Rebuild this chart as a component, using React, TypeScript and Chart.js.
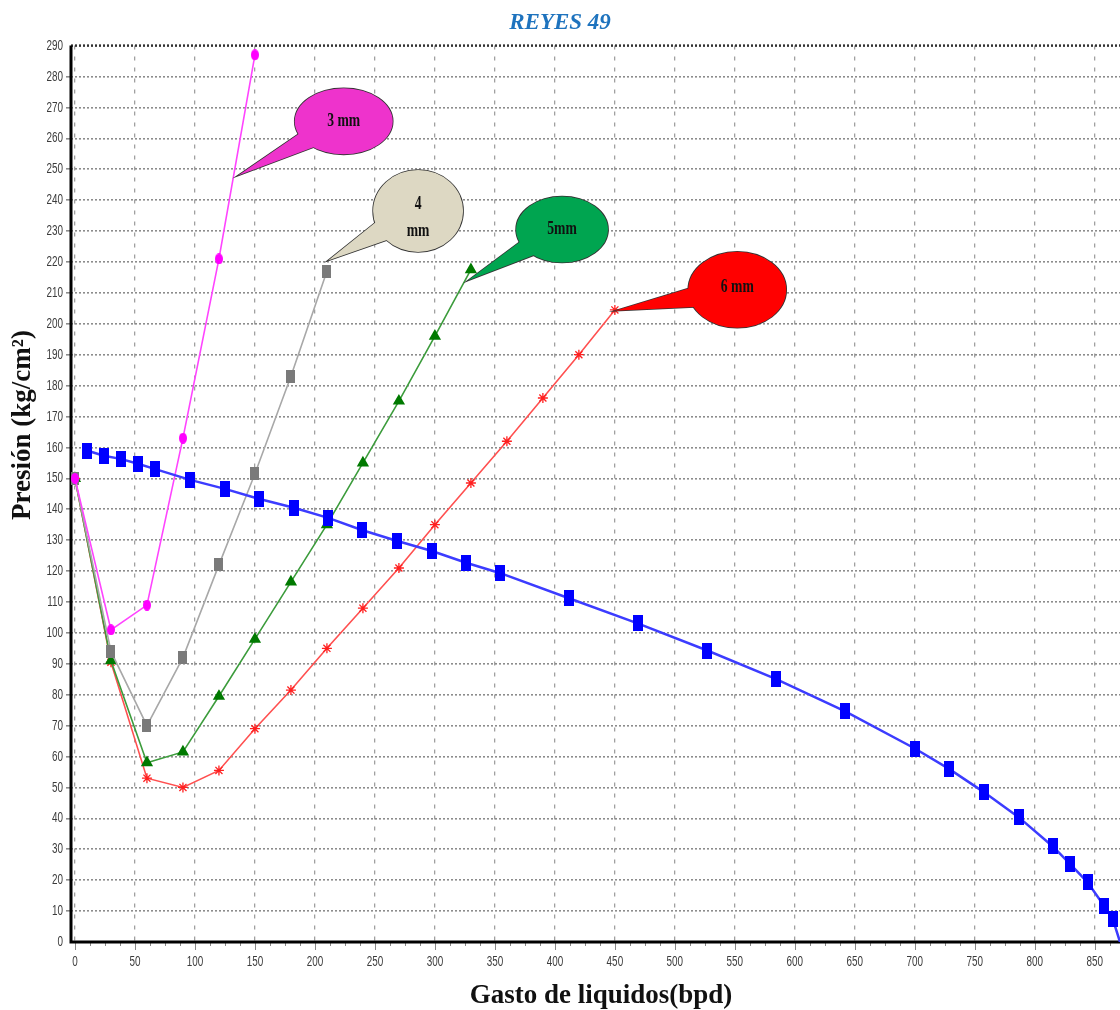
import React, { useEffect, useRef } from 'react';
import { Chart, registerables } from 'chart.js';

Chart.register(...registerables);

// ---------- data ----------
const xTickValues = [0, 50, 100, 150, 200, 250, 300, 350, 400, 450, 500, 550, 600, 650, 700, 750, 800, 850];
const yTickValues = [0, 10, 20, 30, 40, 50, 60, 70, 80, 90, 100, 110, 120, 130, 140, 150, 160, 170, 180, 190, 200, 210, 220, 230, 240, 250, 260, 270, 280, 290];

// IPR curve (blue)
const iprX = [10, 24, 38, 52.5, 67, 96, 125, 153, 182.5, 211, 239, 268, 297.5, 326, 354, 411.7, 469, 527, 584, 642, 700, 728.5, 757.5, 786.5, 815, 829.5, 844, 857.5, 865, 871];
const iprY = [159, 157.3, 156.3, 154.7, 153, 149.5, 146.6, 143.4, 140.5, 137.2, 133.3, 129.8, 126.5, 122.7, 119.4, 111.2, 103.1, 94.3, 85.1, 74.6, 62.6, 56, 48.5, 40.4, 30.9, 25.2, 19.3, 11.8, 7.4, 0];

// choke curves
const choke3X = [0, 30, 60, 90, 120, 150];
const choke3Y = [150, 101, 109, 163, 221, 287];

const choke4X = [0, 30, 60, 90, 120, 150, 180, 210];
const choke4Y = [150, 94, 70, 92, 122, 151.5, 183, 217];

const choke5X = [0, 30, 60, 90, 120, 150, 180, 210, 240, 270, 300, 330];
const choke5Y = [150, 91, 58, 61.5, 79.5, 98, 116.5, 135, 155, 175, 196, 217.5];

const choke6X = [0, 30, 60, 90, 120, 150, 180, 210, 240, 270, 300, 330, 360, 390, 420, 450];
const choke6Y = [150, 90.5, 53, 50, 55.5, 69, 81.5, 95, 108, 121, 135, 148.5, 162, 176, 190, 204.5];

const calloutLabels = [['3 mm'], ['4', 'mm'], ['5mm'], ['6 mm']];

const titleText = 'REYES 49';
const yTitleText = 'Presión (kg/cm²)';
const xTitleText = 'Gasto de liquidos(bpd)';

// ---------- callout geometry (data units for anchors, px for ellipse radii) ----------
const calloutGeom = [
  { cx: 224, cy: 265.5, rx: 49, ry: 33, tipX: 136, tipY: 248, fill: '#EE33CC', textDy: 0 },
  { cx: 286, cy: 236.5, rx: 45, ry: 41, tipX: 211, tipY: 220.5, fill: '#DDD8C3', textDy: 7 },
  { cx: 406, cy: 230.5, rx: 46, ry: 33, tipX: 327.5, tipY: 214, fill: '#00A550', textDy: 0 },
  { cx: 552, cy: 211, rx: 49, ry: 38, tipX: 450, tipY: 204.2, fill: '#FF0000', textDy: -3 },
];

const toXY = (xs: number[], ys: number[]) => xs.map((x, i) => ({ x, y: ys[i] }));

function makeRect(w: number, h: number, color: string) {
  const c = document.createElement('canvas');
  c.width = w;
  c.height = h;
  const g = c.getContext('2d')!;
  g.fillStyle = color;
  g.fillRect(0, 0, w, h);
  return c;
}

function makeEllipse(w: number, h: number, color: string) {
  const c = document.createElement('canvas');
  c.width = w;
  c.height = h;
  const g = c.getContext('2d')!;
  g.fillStyle = color;
  g.beginPath();
  g.ellipse(w / 2, h / 2, w / 2, h / 2, 0, 0, Math.PI * 2);
  g.fill();
  return c;
}

const TICK_FONT = "15px 'Liberation Sans', Arial, sans-serif";
const TICK_SQUEEZE = 0.66;

const decorPlugin = {
  id: 'decor',
  beforeDatasetsDraw(chart: any) {
    const { ctx, chartArea, scales } = chart;
    const xs = scales.x;
    ctx.save();
    ctx.strokeStyle = '#888';
    ctx.lineWidth = 1;
    for (let v = 0; v <= 870; v += 12.5) {
      const px = Math.round(xs.getPixelForValue(v)) + 0.5;
      ctx.beginPath();
      ctx.moveTo(px, chartArea.bottom);
      ctx.lineTo(px, chartArea.bottom + (v % 50 === 0 ? 8 : 4));
      ctx.stroke();
    }
    ctx.strokeStyle = '#333';
    ctx.lineWidth = 2.5;
    ctx.setLineDash([2, 2]);
    ctx.beginPath();
    ctx.moveTo(chartArea.left, chartArea.top);
    ctx.lineTo(chartArea.right, chartArea.top);
    ctx.stroke();
    ctx.setLineDash([]);
    ctx.strokeStyle = '#000';
    ctx.lineWidth = 3;
    ctx.beginPath();
    ctx.moveTo(chartArea.left, chartArea.top);
    ctx.lineTo(chartArea.left, chartArea.bottom);
    ctx.lineTo(chartArea.right, chartArea.bottom);
    ctx.stroke();
    ctx.restore();
  },
  afterDatasetsDraw(chart: any) {
    const { ctx, scales } = chart;
    const xs = scales.x;
    const ys = scales.y;
    ctx.save();
    calloutGeom.forEach((g, idx) => {
      const cx = xs.getPixelForValue(g.cx);
      const cy = ys.getPixelForValue(g.cy);
      const tx = xs.getPixelForValue(g.tipX);
      const ty = ys.getPixelForValue(g.tipY);
      const t = Math.atan2((ty - cy) / g.ry, (tx - cx) / g.rx);
      const d = 0.3;
      const b1x = cx + g.rx * Math.cos(t - d) * 0.9;
      const b1y = cy + g.ry * Math.sin(t - d) * 0.9;
      const b2x = cx + g.rx * Math.cos(t + d) * 0.9;
      const b2y = cy + g.ry * Math.sin(t + d) * 0.9;
      const tail = () => {
        ctx.beginPath();
        ctx.moveTo(tx, ty);
        ctx.lineTo(b1x, b1y);
        ctx.lineTo(b2x, b2y);
        ctx.closePath();
      };
      const ell = () => {
        ctx.beginPath();
        ctx.ellipse(cx, cy, g.rx, g.ry, 0, 0, Math.PI * 2);
      };
      ctx.strokeStyle = '#333';
      ctx.lineWidth = 1.6;
      tail();
      ctx.stroke();
      ell();
      ctx.stroke();
      ctx.fillStyle = g.fill;
      tail();
      ctx.fill();
      ell();
      ctx.fill();
      const lines = calloutLabels[idx];
      ctx.fillStyle = '#111';
      ctx.font = "bold 19px 'Liberation Serif', serif";
      ctx.textAlign = 'center';
      ctx.textBaseline = 'middle';
      lines.forEach((ln, i) => {
        const ly = cy + g.textDy + (i - (lines.length - 1) / 2) * 27;
        ctx.save();
        ctx.translate(cx, ly);
        ctx.scale(0.72, 1);
        ctx.fillText(ln, 0, 0);
        ctx.restore();
      });
    });
    ctx.restore();
  },
  afterDraw(chart: any) {
    const { ctx, chartArea, scales } = chart;
    ctx.save();
    ctx.fillStyle = '#3C3C3C';
    ctx.font = TICK_FONT;
    ctx.textBaseline = 'middle';
    ctx.textAlign = 'center';
    xTickValues.forEach((v) => {
      const px = scales.x.getPixelForValue(v);
      ctx.save();
      ctx.translate(px, chartArea.bottom + 20);
      ctx.scale(TICK_SQUEEZE, 1);
      ctx.fillText(String(v), 0, 0);
      ctx.restore();
    });
    ctx.textAlign = 'right';
    yTickValues.forEach((v) => {
      const py = scales.y.getPixelForValue(v);
      ctx.save();
      ctx.translate(chartArea.left - 8, py);
      ctx.scale(TICK_SQUEEZE, 1);
      ctx.fillText(String(v), 0, 0);
      ctx.restore();
    });
    ctx.fillStyle = '#111';
    ctx.font = "bold 27px 'Liberation Serif', serif";
    ctx.textAlign = 'center';
    ctx.textBaseline = 'middle';
    ctx.fillText(xTitleText, 601, chartArea.bottom + 54);
    ctx.translate(23, 425);
    ctx.rotate(-Math.PI / 2);
    ctx.fillText(yTitleText, 0, 0);
    ctx.restore();
  },
};

export default function App() {
  const ref = useRef<HTMLCanvasElement | null>(null);

  useEffect(() => {
    if (!ref.current) return;
    const blueMarker = makeRect(10, 16, '#0000FF');
    const grayMarker = makeRect(9, 13, '#7A7A7A');
    const pinkMarker = makeEllipse(8, 11, '#FF00FF');
    const lastIdx = iprX.length - 1;

    const chart = new Chart(ref.current, {
      type: 'line',
      data: {
        datasets: [
          {
            label: 'IPR',
            data: toXY(iprX, iprY),
            borderColor: '#3C3CFF',
            borderWidth: 2.5,
            pointStyle: blueMarker as any,
            pointRadius: (c: any) => (c.dataIndex === lastIdx ? 0 : 6),
            backgroundColor: '#0000FF',
          },
          {
            label: '3 mm',
            data: toXY(choke3X, choke3Y),
            borderColor: '#FF44FF',
            borderWidth: 1.6,
            pointStyle: pinkMarker as any,
            pointRadius: 5,
            backgroundColor: '#FF00FF',
          },
          {
            label: '4 mm',
            data: toXY(choke4X, choke4Y),
            borderColor: '#A8A8A8',
            borderWidth: 1.6,
            pointStyle: grayMarker as any,
            pointRadius: 5,
            backgroundColor: '#7A7A7A',
          },
          {
            label: '5 mm',
            data: toXY(choke5X, choke5Y),
            borderColor: '#3C9C3C',
            borderWidth: 1.6,
            pointStyle: 'triangle',
            pointRadius: 5.5,
            backgroundColor: '#007A00',
            pointBorderColor: '#007A00',
          },
          {
            label: '6 mm',
            data: toXY(choke6X, choke6Y),
            borderColor: '#FF5050',
            borderWidth: 1.6,
            pointStyle: 'star',
            pointRadius: 5,
            pointBorderWidth: 1.3,
            pointBorderColor: '#FF2020',
            backgroundColor: '#FF2020',
          },
        ],
      },
      options: {
        animation: false,
        responsive: false,
        maintainAspectRatio: false,
        layout: { padding: { left: 0, right: 0, top: 0, bottom: 0 }, autoPadding: false },
        elements: { line: { tension: 0 } },
        plugins: {
          legend: { display: false },
          tooltip: { enabled: false },
          title: {
            display: true,
            text: titleText,
            color: '#1E73BE',
            font: { family: "'Liberation Serif', serif", size: 23, style: 'italic', weight: 'bold' },
            padding: { top: 9, bottom: 9 },
          },
        },
        scales: {
          x: {
            type: 'linear',
            min: -3.3,
            max: 871,
            afterBuildTicks: (scale: any) => {
              scale.ticks = xTickValues.map((v) => ({ value: v }));
            },
            afterFit: (scale: any) => {
              scale.height = 68;
            },
            grid: {
              color: '#A0A0A0',
              lineWidth: 1.3,
              drawTicks: false,
            },
            border: { display: false, dash: [4, 7] },
            ticks: { display: false },
          },
          y: {
            type: 'linear',
            min: 0,
            max: 290,
            afterBuildTicks: (scale: any) => {
              scale.ticks = yTickValues.map((v) => ({ value: v }));
            },
            afterFit: (scale: any) => {
              scale.width = 71;
            },
            grid: {
              color: (c: any) => (c.tick && (c.tick.value === 0 || c.tick.value === 290) ? 'rgba(0,0,0,0)' : '#8C8C8C'),
              lineWidth: 1.6,
              tickLength: 5,
            },
            border: { display: false, dash: [2, 2] },
            ticks: { display: false },
          },
        },
      },
      plugins: [decorPlugin],
    });
    return () => chart.destroy();
  }, []);

  return (
    <div style={{ position: 'absolute', left: 0, top: 0, width: 1120, height: 1010, background: '#fff' }}>
      <canvas ref={ref} width={1120} height={1010} style={{ width: 1120, height: 1010, display: 'block' }} />
    </div>
  );
}
